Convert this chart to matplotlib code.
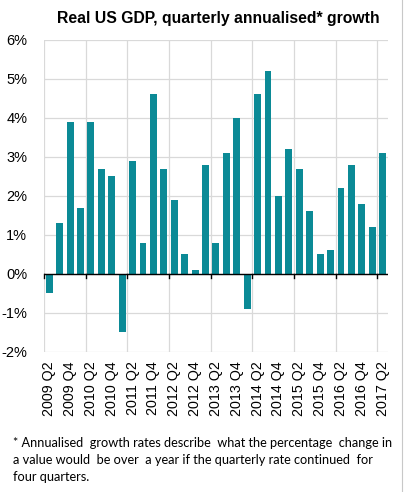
import matplotlib.pyplot as plt
from matplotlib.lines import Line2D

# quarters from 2009 Q2 to 2017 Q2
years = [2009] * 3 + [y for y in range(2010, 2017) for _ in range(4)] + [2017] * 2
qtrs = [2, 3, 4] + [1, 2, 3, 4] * 7 + [1, 2]
labels = [f"{y} Q{q}" for y, q in zip(years, qtrs)]

growth = [-0.5, 1.3, 3.9, 1.7, 3.9, 2.7, 2.5, -1.5, 2.9, 0.8, 4.6,
          2.7, 1.9, 0.5, 0.1, 2.8, 0.8, 3.1, 4.0, -0.9, 4.6, 5.2,
          2.0, 3.2, 2.7, 1.6, 0.5, 0.6, 2.2, 2.8, 1.8, 1.2, 3.1]

yticks = [-2, -1, 0, 1, 2, 3, 4, 5, 6]
bar_color = "#0B8A96"
grid_color = "#D9D9D9"

fig = plt.figure(figsize=(4.04, 4.92), dpi=100)
ax = fig.add_axes([0.109, 0.285, 0.851, 0.634])

x = list(range(len(growth)))
ax.bar(x, growth, width=0.66, color=bar_color, zorder=3)

ax.set_xlim(-0.5, len(growth) - 0.5)
ax.set_ylim(-2, 6)

# horizontal gridlines
ax.set_yticks(yticks)
ax.set_yticklabels([f"{v}%" for v in yticks], family="Liberation Sans", fontsize=10.5)
ax.tick_params(axis="y", length=0, pad=12)
ax.grid(axis="y", color=grid_color, linewidth=0.9, zorder=0)

# vertical gridlines at year boundaries
for b in range(0, len(growth) + 1, 4):
    ax.axvline(b - 0.5, color=grid_color, linewidth=0.9, zorder=0)

# zero axis with tick marks
ax.axhline(0, color="black", linewidth=1.0, zorder=4)
for b in range(0, len(growth) + 1, 4):
    ax.plot([b - 0.5, b - 0.5], [0, -0.1], color="black", linewidth=1.0,
            zorder=4, clip_on=False)

ax.set_xticks(x[::2])
ax.set_xticklabels(labels[::2], rotation=90, family="Liberation Sans", fontsize=10.3)
ax.tick_params(axis="x", length=0, pad=7)

for s in ax.spines.values():
    s.set_visible(False)

fig.text(0.54, 0.962, "Real US GDP, quarterly annualised* growth",
         ha="center", va="center", fontsize=11.3, fontweight="bold",
         family="Liberation Sans")

fig.text(0.032, 0.065,
         "* Annualised  growth rates describe  what the percentage  change in\n"
         "a value would  be over  a year if the quarterly rate continued  for\n"
         "four quarters.",
         ha="left", va="center", fontsize=9.2, linespacing=1.5, family="Lato")

# faint frame line on the right
fig.add_artist(Line2D([0.994, 0.994], [0, 1], color="#C8C8C8", linewidth=0.8))

fig.savefig("out.png", dpi=100)
